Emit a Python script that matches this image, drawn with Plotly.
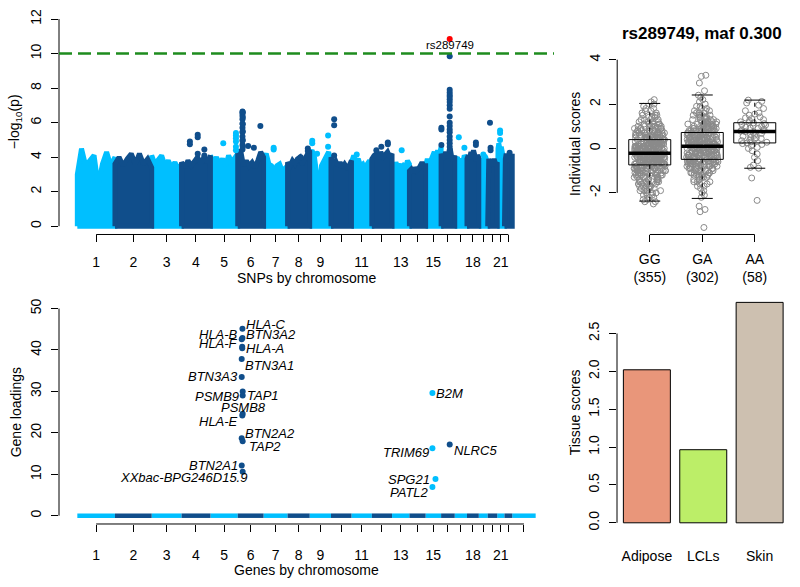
import numpy as np
import plotly.graph_objects as go

# ======================= DATA =======================
chrom_names = [str(i) for i in range(1, 23)] + ["X"]
chrom_len_mb = [249.25, 243.20, 198.02, 191.15, 180.92, 171.12, 159.14, 146.36, 141.21, 135.53,
                135.01, 133.85, 115.17, 107.35, 102.53, 90.35, 81.20, 78.08, 59.13, 63.03,
                48.13, 51.30, 155.27]
snp_axis_labels = ["1", "2", "3", "4", "5", "6", "7", "8", "9", "", "11", "", "13", "", "15",
                   "", "", "18", "", "", "21", ""]
gene_axis_labels = snp_axis_labels + [""]

# top of the dense SNP cloud (-log10 p), 10 evenly spaced spots along each autosome
snp_cloud_top = [
    [3.0, 4.5, 3.5, 3.8, 4.1, 2.3, 3.6, 4.3, 3.5, 4.0],
    [3.6, 4.0, 3.5, 3.9, 4.2, 3.6, 4.2, 3.6, 3.9, 3.4],
    [4.1, 3.6, 3.9, 4.1, 3.5, 3.8, 3.4, 3.7, 3.3, 3.6],
    [3.7, 3.4, 3.8, 3.5, 3.8, 4.0, 3.6, 4.0, 3.7, 4.1],
    [4.1, 3.7, 4.0, 3.6, 3.9, 3.5, 4.1, 3.7, 4.0, 4.2],
    [4.2, 4.4, 3.5, 3.8, 3.5, 3.7, 3.4, 3.8, 4.3, 4.0],
    [3.9, 4.2, 3.6, 3.5, 3.2, 3.5, 3.6, 3.2, 3.4, 3.5],
    [3.7, 3.5, 3.8, 3.6, 3.9, 4.0, 3.6, 3.9, 4.1, 4.4],
    [4.2, 4.4, 4.0, 3.0, 0.8, 3.5, 3.8, 4.1, 4.3, 3.7],
    [4.0, 3.7, 3.8, 3.5, 3.7, 3.4, 3.6, 3.4, 3.5, 3.8],
    [3.7, 4.1, 3.7, 3.9, 3.5, 3.6, 3.3, 3.6, 3.8, 3.5],
    [3.9, 4.1, 4.2, 3.9, 4.3, 4.0, 4.2, 4.3, 4.0, 4.2],
    [3.5, 3.3, 3.7, 3.4, 3.6, 3.3, 3.5, 3.4, 3.8, 3.6],
    [3.2, 3.3, 3.1, 3.4, 3.2, 3.3, 3.5, 3.7, 3.5, 3.5],
    [3.5, 3.9, 3.6, 3.8, 4.0, 4.3, 4.0, 4.4, 4.1, 4.6],
    [4.2, 3.9, 4.0, 4.3, 4.0, 4.2, 4.5, 4.0, 3.8, 4.1],
    [3.8, 3.9, 4.0, 3.6, 3.7, 3.9, 3.7, 4.1, 4.0, 3.9],
    [3.9, 4.1, 3.9, 4.3, 4.1, 4.4, 4.0, 3.8, 4.1, 4.0],
    [4.0, 3.8, 3.5, 2.7, 3.5, 3.9, 4.1, 4.0, 3.8, 3.6],
    [3.7, 3.9, 3.7, 3.6, 3.5, 3.7, 3.9, 3.7, 3.6, 3.7],
    [4.2, 4.5, 4.8, 4.4, 4.3, 4.6, 4.2, 4.0, 3.8, 3.6],
    [3.6, 3.9, 4.2, 3.8, 3.7, 4.0, 4.1, 3.9, 3.7, 4.2],
]

# isolated SNPs standing above the cloud
peak_chrom = [4, 4, 4, 4, 4, 4, 4,
              5, 5, 5, 5, 5, 5, 5,
              6, 6, 6, 6, 6, 6, 6, 6, 6, 6, 6, 6, 6, 6, 6, 6, 6, 6, 6, 6,
              7, 7, 8, 8, 8, 9, 9, 9, 9, 9, 10, 10, 10, 11, 12, 12, 12, 12, 13,
              16, 16, 16,
              16, 16, 16, 16, 16, 16, 16, 16, 16, 16, 16, 16, 16, 16, 16, 16, 16, 16, 16,
              17, 17, 18, 18, 19, 20, 20, 20, 21, 21, 21, 22]
peak_pos_mb = [55, 55, 107, 107, 107, 151, 151,
               85, 169, 169, 169, 169, 169, 169,
               31.5, 31.5, 31.5, 31.5, 31.5, 31.5, 31.5, 31.5, 31.5, 31.5, 31.5,
               33.5, 33.5, 33.5, 33.5, 33.5, 33.5, 69, 107, 150,
               67, 67, 87, 134, 134, 17, 17, 49, 122, 122, 21, 21, 21, 35, 30, 63, 106, 106, 64,
               2, 2, 2,
               57.0, 57.0, 57.0, 57.0, 57.0, 57.0, 57.0, 57.0, 57.0, 57.0, 57.0, 57.0, 57.0,
               57.0, 57.0, 57.0, 57.0, 57.0, 57.0,
               27, 64, 59, 59, 30, 15, 19, 19, 19, 19, 19, 34]
peak_logp = [4.9, 4.75, 5.3, 5.15, 4.2, 4.45, 4.1,
             4.8, 5.4, 5.25, 5.1, 4.9, 4.6, 4.4,
             6.65, 6.55, 6.4, 6.2, 5.95, 5.7, 5.45, 5.2, 4.95, 4.7, 4.45,
             6.6, 6.3, 5.9, 5.5, 5.0, 4.6, 4.65, 4.55, 5.8,
             4.55, 4.45, 4.0, 4.5, 4.35, 4.95, 4.8, 4.2, 5.25, 4.6, 6.2, 5.85, 4.1, 4.15, 4.4,
             4.6, 4.85, 4.75, 4.4,
             5.7, 5.6, 4.7,
             7.9, 7.75, 7.6, 7.5, 7.35, 7.2, 7.0, 6.8, 6.35, 6.0, 5.8, 5.6, 5.45, 5.2, 5.0,
             4.8, 4.6, 4.4, 9.85,
             5.15, 4.55, 4.85, 4.7, 4.15, 6.0, 4.55, 4.4, 5.55, 5.4, 5.0, 4.25]

hit_name = "rs289749"
hit_chrom = 16
hit_pos_mb = 57.0
hit_logp = 10.85
threshold_logp = 10

# gene loadings
gene_names = ["HLA-C", "HLA-B", "BTN3A2", "HLA-F", "HLA-A", "BTN3A1", "BTN3A3", "PSMB9", "TAP1",
              "PSMB8", "HLA-E", "BTN2A2", "TAP2", "BTN2A1", "XXbac-BPG246D15.9",
              "B2M", "TRIM69", "NLRC5", "SPG21", "PATL2"]
gene_chrom = [6] * 15 + [15, 15, 16, 15, 15]
gene_pos_mb = [31.24, 31.32, 26.37, 29.69, 29.91, 26.40, 26.44, 32.82, 32.81, 32.81, 30.46,
               26.38, 32.79, 26.46, 32.82, 45.00, 45.03, 57.05, 65.25, 44.96]
gene_loading = [45.1, 42.9, 42.6, 40.8, 40.4, 37.8, 33.5, 30.0, 29.0, 24.6, 24.2, 18.7, 18.0,
                12.1, 10.6, 29.6, 16.3, 17.2, 8.85, 6.9]

# genotype groups (individual scores)
geno_labels = ["GG", "GA", "AA"]
gg_values = [-2.5, -2.4, -2.3, -2.2, -2.1, -2.0, -1.9, -1.8, -1.7, -1.6, -1.5, -1.4, -1.3, -1.2,
             -1.1, -1.0, -0.9, -0.8, -0.7, -0.6, -0.5, -0.4, -0.3, -0.2, -0.1, 0.0, 0.1, 0.2,
             0.3, 0.4, 0.5, 0.6, 0.7, 0.8, 0.9, 1.0, 1.1, 1.2, 1.3, 1.4, 1.5, 1.6, 1.7, 1.8,
             1.9, 2.0, 2.1, 2.2]
gg_counts = [1, 2, 2, 2, 3, 3, 4, 4, 4, 5, 6, 6, 7, 8, 9, 10, 11, 12, 13, 14, 15, 16, 16, 17,
             16, 15, 15, 14, 13, 12, 11, 10, 9, 8, 7, 6, 5, 4, 4, 3, 3, 2, 2, 2, 1, 1, 1, 1]
ga_values = [-3.56, -2.85, -2.75, -2.6, -2.2, -2.1, -2.0, -1.9, -1.8, -1.7, -1.6, -1.5, -1.4,
             -1.3, -1.2, -1.1, -1.0, -0.9, -0.8, -0.7, -0.6, -0.5, -0.4, -0.3, -0.2, -0.1,
             0.0, 0.1, 0.2, 0.3, 0.4, 0.5, 0.6, 0.7, 0.8, 0.9, 1.0, 1.1, 1.2, 1.3, 1.4, 1.5,
             1.6, 1.7, 1.8, 1.9, 2.0, 2.1, 2.2, 2.3, 2.4, 2.6, 2.95, 3.25, 3.3]
ga_counts = [1, 1, 1, 1, 1, 1, 1, 1, 1, 2, 2, 3, 3, 4, 5, 5, 6, 7, 8, 9, 10, 11, 11, 11, 13,
             13, 13, 13, 12, 13, 12, 12, 11, 11, 10, 9, 8, 7, 6, 5, 5, 4, 3, 3, 2, 2, 1, 1, 1,
             1, 1, 1, 1, 1, 1]
aa_scores = [-2.34, -1.33, -0.89, -0.85, -0.75, -0.55, -0.4, -0.25, -0.1, 0.0, 0.05, 0.12,
             0.18, 0.22, 0.25, 0.28, 0.3, 0.35, 0.38, 0.42, 0.45, 0.48, 0.5, 0.55, 0.6, 0.64,
             0.68, 0.72, 0.76, 0.78, 0.8, 0.83, 0.86, 0.9, 0.93, 0.96, 1.0, 1.03, 1.06, 1.09,
             1.12, 1.15, 1.17, 1.2, 1.25, 1.3, 1.35, 1.38, 1.42, 1.5, 1.55, 1.6, 1.7, 1.8,
             1.95, 2.05, 2.12, 2.18]
geno_q1 = [-0.74, -0.49, 0.25]
geno_median = [-0.22, 0.10, 0.77]
geno_q3 = [0.40, 0.72, 1.16]
geno_whisker_lo = [-2.37, -2.25, -0.89]
geno_whisker_hi = [2.03, 2.41, 2.18]
maf = 0.300

tissues = ["Adipose", "LCLs", "Skin"]
tissue_scores = [2.02, 0.965, 2.91]

# ======================= STYLE =======================
W, H = 800, 587
FONT = "Liberation Sans, Arial, Helvetica, sans-serif"
LIGHT = "#00BFFF"
DARK = "#104E8B"
tissue_colors = ["#E9967A", "#BCEE68", "#CDC0B0"]
label_anchor = ["left", "right", "left", "right", "left", "left", "right", "right", "left",
                "center", "right", "left", "left", "right", "right",
                "left", "right", "left", "right", "right"]
label_dx = [2, -2, 2, -2, 2, 1, -2, -2, 2, 1, -2, 1, 4, -2, 6, 2, -1, 2, -3, -1]
label_dy = [4.6, 3.7, 4.7, 3.0, 0, -6, 0, -5, 0, 6, -5.7, 4.6, -5, 0, -6, 0, -4.4, -5.6, 0, -5.3]


def dom_x(a, b):
    return [a / W, b / W]


def dom_y(top, bottom):
    return [1 - bottom / H, 1 - top / H]


lens = np.array(chrom_len_mb)
offsets = np.concatenate([[0.0], np.cumsum(lens)[:-1]])
mids = offsets + lens / 2
total = lens.sum()
xpad = 0.04 * total
genome_range = [-xpad, total + xpad]

fig = go.Figure()

# ---------- Manhattan plot (top left) ----------
for parity, col in ((0, LIGHT), (1, DARK)):
    xs, ys = [], []
    for i, tops in enumerate(snp_cloud_top):
        if i % 2 != parity:
            continue
        n = len(tops)
        xs += [offsets[i]]
        ys += [0]
        xs += [offsets[i] + lens[i] * k / (n - 1) for k in range(n)]
        ys += list(tops)
        xs += [offsets[i] + lens[i], offsets[i], None]
        ys += [0, 0, None]
    fig.add_trace(go.Scatter(x=xs, y=ys, mode="lines", fill="toself", fillcolor=col,
                             line=dict(color=col, width=5), xaxis="x", yaxis="y",
                             hoverinfo="skip"))

pk_x = [offsets[c - 1] + p for c, p in zip(peak_chrom, peak_pos_mb)]
pk_col = [LIGHT if c % 2 == 1 else DARK for c in peak_chrom]
fig.add_trace(go.Scatter(x=pk_x, y=peak_logp, mode="markers",
                         marker=dict(color=pk_col, size=6), xaxis="x", yaxis="y",
                         hoverinfo="skip"))
hit_x = offsets[hit_chrom - 1] + hit_pos_mb
fig.add_trace(go.Scatter(x=[hit_x], y=[hit_logp], mode="markers",
                         marker=dict(color="red", size=6), xaxis="x", yaxis="y",
                         hoverinfo="skip"))

# ---------- Gene loadings (bottom left) ----------
for parity, col in ((0, LIGHT), (1, DARK)):
    xs, ys = [], []
    for i in range(len(lens)):
        if i % 2 != parity:
            continue
        xs += [offsets[i], offsets[i] + lens[i], None]
        ys += [0, 0, None]
    fig.add_trace(go.Scatter(x=xs, y=ys, mode="lines", line=dict(color=col, width=4.5),
                             xaxis="x2", yaxis="y2", hoverinfo="skip"))
g_x = [offsets[c - 1] + p for c, p in zip(gene_chrom, gene_pos_mb)]
g_col = [LIGHT if c % 2 == 1 else DARK for c in gene_chrom]
fig.add_trace(go.Scatter(x=g_x, y=gene_loading, mode="markers",
                         marker=dict(color=g_col, size=6), xaxis="x2", yaxis="y2",
                         hoverinfo="skip"))

# ---------- Boxplot (top right) ----------
gg_scores = np.repeat(gg_values, gg_counts)
ga_scores = np.repeat(ga_values, ga_counts)
groups = [gg_scores, ga_scores, np.array(aa_scores)]
gpos = [1, 2, 3]
for p, vals in zip(gpos, groups):
    fig.add_trace(go.Box(x=[p] * len(vals), y=vals, boxpoints="all", jitter=0.75, pointpos=0,
                         width=0.8, fillcolor="rgba(0,0,0,0)", line=dict(width=0),
                         marker=dict(symbol="circle-open", size=6, color="#8a8a8a",
                                     line=dict(width=1)),
                         xaxis="x3", yaxis="y3", hoverinfo="skip"))
bx, by, mx, my, wx, wy, sx, sy = [], [], [], [], [], [], [], []
for p, q1, md, q3, lo, hi in zip(gpos, geno_q1, geno_median, geno_q3, geno_whisker_lo,
                                 geno_whisker_hi):
    bx += [p - 0.4, p + 0.4, p + 0.4, p - 0.4, p - 0.4, None]
    by += [q1, q1, q3, q3, q1, None]
    mx += [p - 0.4, p + 0.4, None]
    my += [md, md, None]
    wx += [p, p, None, p, p, None]
    wy += [q3, hi, None, q1, lo, None]
    sx += [p - 0.2, p + 0.2, None, p - 0.2, p + 0.2, None]
    sy += [hi, hi, None, lo, lo, None]
fig.add_trace(go.Scatter(x=wx, y=wy, mode="lines", line=dict(color="black", width=1,
                                                              dash="4px,4px"),
                         xaxis="x3", yaxis="y3", hoverinfo="skip"))
fig.add_trace(go.Scatter(x=sx, y=sy, mode="lines", line=dict(color="black", width=1),
                         xaxis="x3", yaxis="y3", hoverinfo="skip"))
fig.add_trace(go.Scatter(x=bx, y=by, mode="lines", line=dict(color="black", width=1),
                         xaxis="x3", yaxis="y3", hoverinfo="skip"))
fig.add_trace(go.Scatter(x=mx, y=my, mode="lines", line=dict(color="black", width=3.5),
                         xaxis="x3", yaxis="y3", hoverinfo="skip"))

# ---------- Tissue bars (bottom right) ----------
fig.add_trace(go.Bar(x=tissues, y=tissue_scores, marker=dict(color=tissue_colors,
                                                             line=dict(color="black", width=1)),
                     xaxis="x4", yaxis="y4", hoverinfo="skip"))

# ======================= AXES =======================
tickfont = dict(family=FONT, size=14, color="black")
base = dict(showgrid=False, zeroline=False, showline=False, ticks="outside", ticklen=7,
            tickwidth=1, tickcolor="black", tickfont=tickfont, tickmode="array")

geno_ticktext = [f"{g}<br>({len(v)})" for g, v in zip(geno_labels, groups)]

fig.update_layout(
    width=W, height=H, margin=dict(l=0, r=0, t=0, b=0),
    paper_bgcolor="white", plot_bgcolor="white", showlegend=False, hovermode=False,
    bargap=1 / 6,
    xaxis=dict(base, domain=dom_x(59, 554), range=genome_range, anchor="y",
               tickvals=list(mids[:22]), ticktext=snp_axis_labels, ticklabelstandoff=8),
    yaxis=dict(base, domain=dom_y(8.9, 235.7), range=[-0.48, 12.48], anchor="x",
               tickvals=[0, 2, 4, 6, 8, 10, 12], ticktext=["0", "2", "4", "6", "8", "10", "12"],
               tickangle=-90, ticklabelstandoff=4),
    xaxis2=dict(base, domain=dom_x(59, 554), range=genome_range, anchor="y2",
                tickvals=list(mids), ticktext=gene_axis_labels, ticklabelstandoff=11),
    yaxis2=dict(base, domain=dom_y(302.4, 529.2), range=[-2, 52], anchor="x2",
                tickvals=[0, 10, 20, 30, 40, 50], ticktext=["0", "10", "20", "30", "40", "50"],
                tickangle=-90, ticklabelstandoff=4),
    xaxis3=dict(base, domain=dom_x(617.2, 787.3), range=[0.38, 3.62], anchor="y3",
                tickvals=gpos, ticktext=geno_ticktext, ticklabelstandoff=5),
    yaxis3=dict(base, domain=dom_y(50, 235.7), range=[-3.876, 4.378], anchor="x3",
                tickvals=[-2, 0, 2, 4], ticktext=["-2", "0", "2", "4"], tickangle=-90,
                ticklabelstandoff=4),
    xaxis4=dict(base, domain=dom_x(617, 789.5), range=[-0.53, 2.53], anchor="y4",
                type="category", ticks="", ticklabelstandoff=22),
    yaxis4=dict(base, domain=dom_y(300, 529.2), range=[-0.0156, 2.969], anchor="x4",
                tickvals=[0, 0.5, 1, 1.5, 2, 2.5],
                ticktext=["0.0", "0.5", "1.0", "1.5", "2.0", "2.5"], tickangle=-90,
                ticklabelstandoff=4),
)

line = dict(color="black", width=1)
shapes = [
    dict(type="line", xref="x domain", x0=0, x1=0, yref="y", y0=0, y1=12, line=line),
    dict(type="line", xref="x", x0=mids[0], x1=mids[21], yref="y domain", y0=0, y1=0, line=line),
    dict(type="line", xref="x2 domain", x0=0, x1=0, yref="y2", y0=0, y1=50, line=line),
    dict(type="line", xref="x2", x0=mids[0], x1=mids[-1], yref="y2 domain", y0=0, y1=0,
         line=line),
    dict(type="line", xref="x3 domain", x0=0, x1=0, yref="y3", y0=-2, y1=4, line=line),
    dict(type="line", xref="x3", x0=gpos[0], x1=gpos[-1], yref="y3 domain", y0=0, y1=0,
         line=line),
    dict(type="line", xref="x4 domain", x0=0, x1=0, yref="y4", y0=0, y1=2.5, line=line),
    dict(type="line", xref="x domain", x0=0, x1=1, yref="y", y0=threshold_logp,
         y1=threshold_logp, line=dict(color="#1E8C1E", width=2.5, dash="13px,6px"),
         layer="above"),
]
fig.update_layout(shapes=shapes)

ann = []


def paper_text(text, x, y, size=14, angle=0, bold=False):
    ann.append(dict(text=f"<b>{text}</b>" if bold else text, x=x / W, y=1 - y / H,
                    xref="paper", yref="paper", showarrow=False, textangle=angle,
                    xanchor="center", yanchor="middle",
                    font=dict(family=FONT, size=size, color="black")))


paper_text("\u2212log<sub>10</sub>(p)", 15, 122, angle=-90)
paper_text("SNPs by chromosome", 306, 279.5)
paper_text("Gene loadings", 16, 416, angle=-90)
paper_text("Genes by chromosome", 306, 575.5)
paper_text("Individual scores", 575, 144, angle=-90)
paper_text("Tissue scores", 575, 416, angle=-90)
paper_text(f"{hit_name}, maf {maf:.3f}", 702, 31.7, size=17, bold=True)

ann.append(dict(text=hit_name, x=hit_x, y=hit_logp, xref="x", yref="y", showarrow=False,
                xanchor="center", yanchor="middle", yshift=-6,
                font=dict(family=FONT, size=11.5, color="black")))
for name, gx, gv, anc, dx, dy in zip(gene_names, g_x, gene_loading, label_anchor, label_dx,
                                     label_dy):
    ann.append(dict(text=f"<i>{name}</i>", x=gx, y=gv, xref="x2", yref="y2", showarrow=False,
                    xanchor=anc, yanchor="middle", xshift=dx, yshift=dy,
                    font=dict(family=FONT, size=13, color="black")))
fig.update_layout(annotations=ann)

fig.write_html("out.html", config={"displayModeBar": False},
               post_script="document.body.style.margin='0px';")
